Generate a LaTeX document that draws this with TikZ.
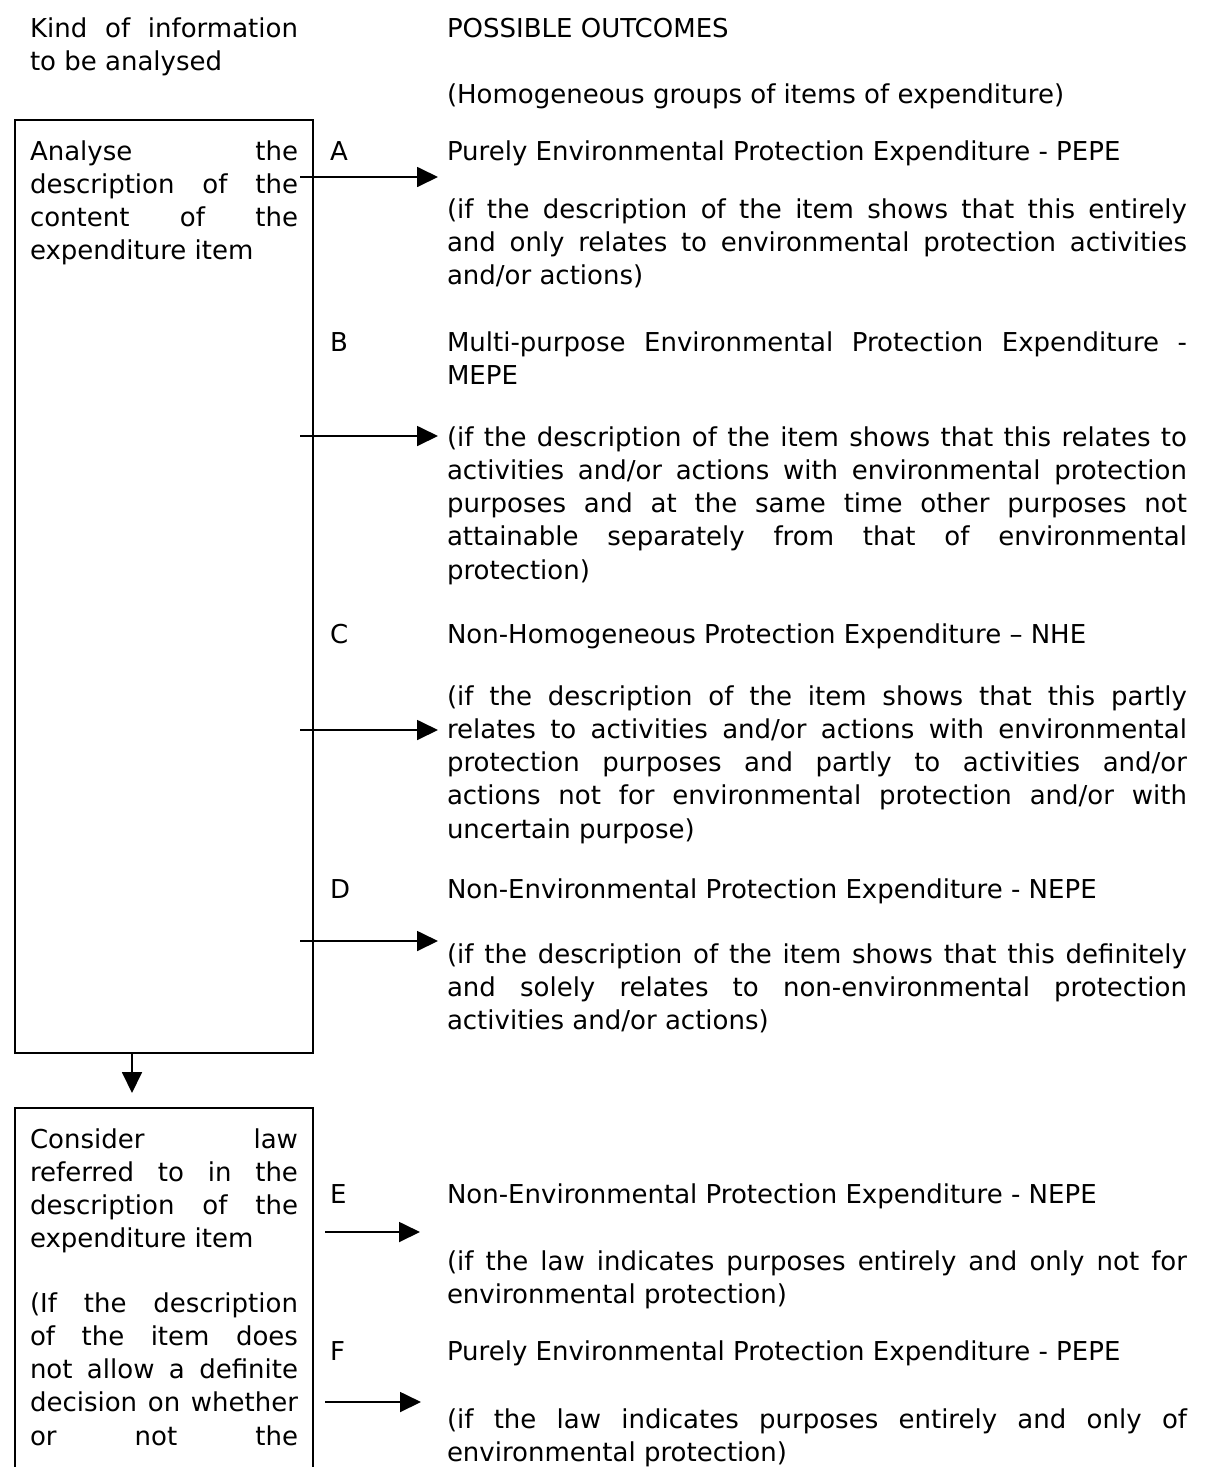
\documentclass[tikz,border=0pt]{standalone}
\usepackage{fontspec}
\setmainfont{DejaVu Sans}
\usetikzlibrary{arrows.meta}
% justified line of a given width, and a plain (last) line
\newcommand{\jl}[2]{\makebox[#1pt][s]{\strut#2}}
\newcommand{\pl}[1]{\strut#1}
\begin{document}
\begin{tikzpicture}[x=1pt,y=-1pt,
  txt/.style={anchor=north west, inner sep=0pt, outer sep=0pt, yshift=23.31pt,
              align=left, font=\fontsize{26}{33.3}\selectfont},
  frame/.style={draw, line width=2.2pt},
  arr/.style={line width=1.8pt, -{Triangle[length=21pt,width=20pt]}}]
\useasboundingbox[fill=white] (0,0) rectangle (1211,1467);

% column headings
\node[txt] (kind) at (30,37) {\jl{268}{Kind of information}\\ \pl{to be analysed}};
\node[txt] (poss) at (447,37) {\pl{POSSIBLE OUTCOMES}};
\node[txt] (homo) at (447,103) {\pl{(Homogeneous groups of items of expenditure)}};

% first step: description of the item
\node[frame, anchor=north west, minimum width=298pt, minimum height=933pt,
      inner sep=0pt, outer sep=0pt] (box1) at (15,120) {};
\node[txt] (t1) at (30,160) {\jl{268}{Analyse the}\\ \jl{268}{description of the}\\
  \jl{268}{content of the}\\ \pl{expenditure item}};

% outcome letters
\node[txt] (lA) at (330,160) {\pl{A}};
\node[txt] (lB) at (330,351) {\pl{B}};
\node[txt] (lC) at (330,643) {\pl{C}};
\node[txt] (lD) at (330,898) {\pl{D}};
\node[txt] (lE) at (330,1203) {\pl{E}};
\node[txt] (lF) at (330,1360) {\pl{F}};

% outcomes A to D
\node[txt] (hA) at (447,160) {\pl{Purely Environmental Protection Expenditure - PEPE}};
\node[txt] (pA) at (447,218) {\jl{740}{(if the description of the item shows that this entirely}\\
  \jl{740}{and only relates to environmental protection activities}\\ \pl{and/or actions)}};

\node[txt] (hB) at (447,351) {\jl{740}{Multi-purpose Environmental Protection Expenditure -}\\ \pl{MEPE}};
\node[txt] (pB) at (447,446) {\jl{740}{(if the description of the item shows that this relates to}\\
  \jl{740}{activities and/or actions with environmental protection}\\
  \jl{740}{purposes and at the same time other purposes not}\\
  \jl{740}{attainable separately from that of environmental}\\ \pl{protection)}};

\node[txt] (hC) at (447,643) {\pl{Non-Homogeneous Protection Expenditure – NHE}};
\node[txt] (pC) at (447,705) {\jl{740}{(if the description of the item shows that this partly}\\
  \jl{740}{relates to activities and/or actions with environmental}\\
  \jl{740}{protection purposes and partly to activities and/or}\\
  \jl{740}{actions not for environmental protection and/or with}\\ \pl{uncertain purpose)}};

\node[txt] (hD) at (447,898) {\pl{Non-Environmental Protection Expenditure - NEPE}};
\node[txt] (pD) at (447,963) {\jl{740}{(if the description of the item shows that this definitely}\\
  \jl{740}{and solely relates to non-environmental protection}\\ \pl{activities and/or actions)}};

% second step: law referred to
\draw[frame] (15,1480) |- (313,1108) coordinate (box2ne) -- (313,1480);
\node[txt] (t2) at (30,1148) {\jl{268}{Consider law}\\ \jl{268}{referred to in the}\\
  \jl{268}{description of the}\\ \pl{expenditure item}};
\node[txt] (t3) at (30,1312) {\jl{268}{(If the description}\\ \jl{268}{of the item does}\\
  \jl{268}{not allow a definite}\\ \jl{268}{decision on whether}\\ \jl{268}{or not the}};

% outcomes E and F
\node[txt] (hE) at (447,1203) {\pl{Non-Environmental Protection Expenditure - NEPE}};
\node[txt] (pE) at (447,1270) {\jl{740}{(if the law indicates purposes entirely and only not for}\\
  \pl{environmental protection)}};
\node[txt] (hF) at (447,1360) {\pl{Purely Environmental Protection Expenditure - PEPE}};
\node[txt] (pF) at (447,1428) {\jl{740}{(if the law indicates purposes entirely and only of}\\
  \pl{environmental protection)}};

% connectors
\coordinate (aA0) at (300,177);  \coordinate (aA1) at (438,177);
\coordinate (aB0) at (300,436);  \coordinate (aB1) at (438,436);
\coordinate (aC0) at (300,730);  \coordinate (aC1) at (438,730);
\coordinate (aD0) at (300,941);  \coordinate (aD1) at (438,941);
\coordinate (aE0) at (325,1232); \coordinate (aE1) at (420,1232);
\coordinate (aF0) at (325,1402); \coordinate (aF1) at (421,1402);
\coordinate (dtip) at (132,1093);
\draw[arr] (aA0) -- (aA1);
\draw[arr] (aB0) -- (aB1);
\draw[arr] (aC0) -- (aC1);
\draw[arr] (aD0) -- (aD1);
\draw[arr] (aE0) -- (aE1);
\draw[arr] (aF0) -- (aF1);
\draw[arr] (box1.south -| dtip) -- (dtip);
\end{tikzpicture}
\end{document}
